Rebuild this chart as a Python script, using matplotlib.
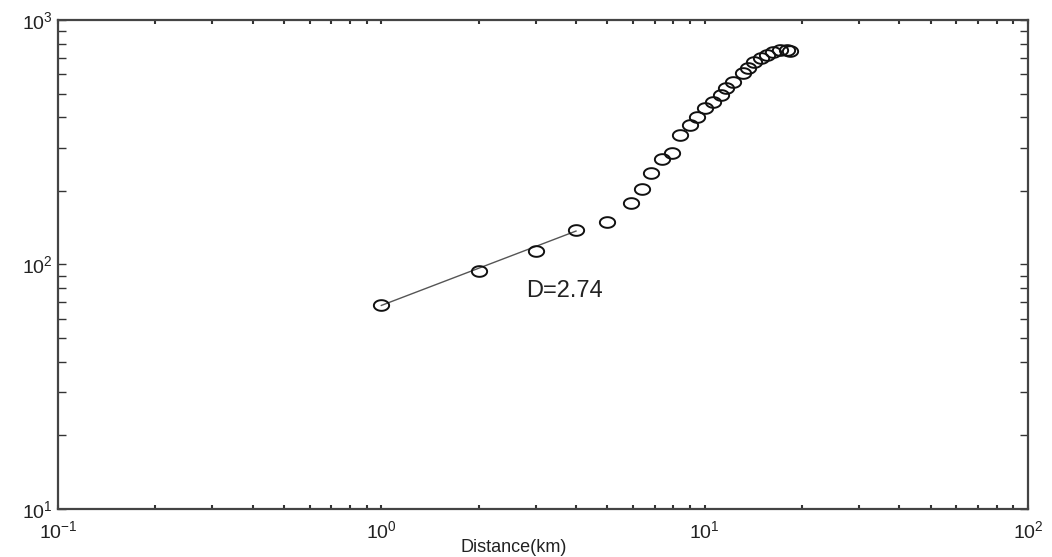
import numpy as np
import matplotlib
matplotlib.use('Agg')
import matplotlib.pyplot as plt
from matplotlib.path import Path

plt.rcParams['font.family'] = ['Liberation Sans', 'DejaVu Sans']
plt.rcParams['mathtext.default'] = 'regular'

# data
dist = [1, 2, 3, 4, 5, 5.9, 6.4, 6.8, 7.4, 7.9, 8.4, 9.0, 9.5, 10.0, 10.6, 11.2,
        11.6, 12.2, 13.1, 13.6, 14.2, 14.9, 15.6, 16.3, 17.1, 18.0, 18.4]
count = [68, 94, 114, 138, 149, 178, 204, 237, 270, 286, 339, 372, 401, 437, 462, 493,
         527, 558, 607, 637, 673, 699, 719, 740, 754, 754, 747]
fit_x = [1, 4]
fit_y = [68, 137]
label = 'D=2.74'

# slightly flattened circle marker, like the original
t = np.linspace(0, 2 * np.pi, 40)
ell = Path(np.column_stack([np.cos(t), 0.7 * np.sin(t)]), closed=True)

fig = plt.figure(figsize=(10.52, 5.57), dpi=100)
ax = fig.add_axes([0.0551, 0.0862, 0.9221, 0.8779])

ax.plot(fit_x, fit_y, color='#555555', lw=1.0)
ax.plot(dist, count, linestyle='none', marker=ell, markersize=11,
        markerfacecolor='none', markeredgecolor='#111111', markeredgewidth=1.4)
ax.text(2.80, 78, label, fontsize=17, va='center', ha='left', color='#222222')

ax.set_xscale('log')
ax.set_yscale('log')
ax.set_xlim(0.1, 100)
ax.set_ylim(10, 1000)

ax.tick_params(which='both', direction='in', top=True, right=True, labelsize=14,
               color='#333333', labelcolor='#222222')
ax.tick_params(axis='x', which='both', length=3, width=1.5, pad=8)
ax.tick_params(axis='y', which='both', length=6, width=1)
for s in ax.spines.values():
    s.set_linewidth(1.6)
    s.set_color('#444444')

fig.text(514 / 1052, 1 - 547 / 557, 'Distance(km)', ha='center', va='center',
         fontsize=13, color='#222222')

fig.savefig('out.png', dpi=100)
